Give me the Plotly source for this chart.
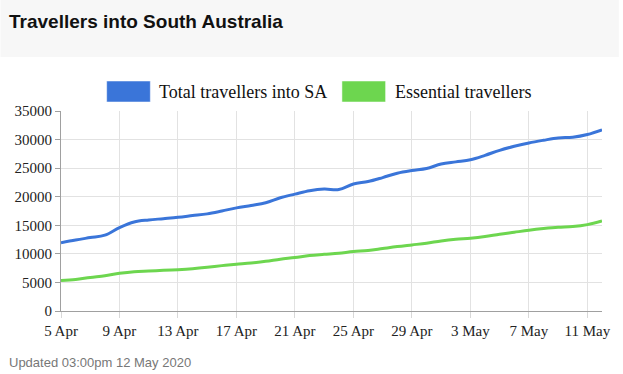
import plotly.graph_objects as go
import pandas as pd

dates = pd.date_range("2020-04-05", "2020-05-12", freq="D")

total_travellers = [11950, 12430, 12850, 13270, 14600, 15580, 15930, 16160, 16400, 16700,
                    17000, 17500, 18050, 18480, 18950, 19830, 20450, 21050, 21350, 21250,
                    22230, 22650, 23350, 24120, 24590, 24940, 25720, 26100, 26470, 27240,
                    28120, 28820, 29410, 29880, 30290, 30410, 30880, 31700]

essential_travellers = [5350, 5530, 5880, 6180, 6590, 6880, 7000, 7120, 7240, 7410,
                        7650, 7940, 8180, 8410, 8700, 9060, 9360, 9710, 9920, 10120,
                        10400, 10580, 10930, 11280, 11570, 11860, 12270, 12560, 12730, 13020,
                        13430, 13780, 14130, 14420, 14650, 14770, 15120, 15760]

series_names = ["Total travellers into SA", "Essential travellers"]
series_colors = ["#3a75d9", "#6dd64f"]

tick_dates = pd.date_range("2020-04-05", "2020-05-12", freq="4D")

W, H = 623, 374
L, R, T, B = 61, 17, 111, 63
pw, ph = W - L - R, H - T - B

def px_x(px):
    return (px - L) / pw

def px_y(py):
    return (H - B - py) / ph

fig = go.Figure()
for name, vals, col in zip(series_names, [total_travellers, essential_travellers], series_colors):
    fig.add_trace(go.Scatter(x=dates, y=vals, mode="lines", name=name,
                             line=dict(color=col, width=3, shape="spline", smoothing=1.0),
                             showlegend=False, hoverinfo="x+y"))

shapes = [
    dict(type="rect", xref="paper", yref="paper", x0=px_x(0), x1=px_x(W), y0=px_y(57), y1=px_y(0),
         fillcolor="#f7f7f7", line=dict(width=0), layer="below"),
]
annotations = [
    dict(text="<b>Travellers into South Australia</b>", xref="paper", yref="paper",
         x=px_x(7), y=px_y(21), xanchor="left", yanchor="middle", showarrow=False,
         font=dict(family="Arial, Liberation Sans", size=19, color="#111")),
    dict(text="Updated 03:00pm 12 May 2020", xref="paper", yref="paper",
         x=px_x(7), y=px_y(362), xanchor="left", yanchor="middle", showarrow=False,
         font=dict(family="Arial, Liberation Sans", size=13, color="#777")),
]
legend_boxes = [(107, 151, 158), (344, 388, 395)]
for (bx0, bx1, tx), name, col in zip(legend_boxes, series_names, series_colors):
    shapes.append(dict(type="rect", xref="paper", yref="paper", x0=px_x(bx0), x1=px_x(bx1),
                       y0=px_y(102), y1=px_y(81), fillcolor=col,
                       line=dict(color="rgba(255,255,255,0.5)", width=1)))
    annotations.append(dict(text=name, xref="paper", yref="paper", x=px_x(tx), y=px_y(92),
                            xanchor="left", yanchor="middle", showarrow=False,
                            font=dict(family="Liberation Serif, Times New Roman, serif", size=18, color="#111")))

tickfont = dict(family="Liberation Serif, Times New Roman, serif", size=15, color="#222")
fig.update_layout(
    width=W, height=H,
    margin=dict(l=L, r=R, t=T, b=B),
    paper_bgcolor="white", plot_bgcolor="white",
    shapes=shapes, annotations=annotations,
    xaxis=dict(type="date", range=[dates[0], dates[-1]], tickvals=list(tick_dates),
               ticktext=[f"{d.day} {d.strftime('%b')}" for d in tick_dates],
               showgrid=True, gridcolor="#e2e2e2", gridwidth=1,
               showline=True, linecolor="#a0a0a0", linewidth=1,
               ticks="outside", ticklen=6, tickcolor="#d8d8d8",
               tickfont=tickfont, zeroline=False, fixedrange=True),
    yaxis=dict(range=[0, 35000], dtick=5000, showgrid=True, gridcolor="#e2e2e2",
               showline=True, linecolor="#a0a0a0", linewidth=1,
               ticks="outside", ticklen=5, tickcolor="#a0a0a0",
               tickfont=tickfont, zeroline=False, tickformat="d", fixedrange=True),
    showlegend=False,
)

fig.write_html("out.html", config={"displayModeBar": False},
               post_script="document.body.style.margin='0';document.body.style.padding='0';")
